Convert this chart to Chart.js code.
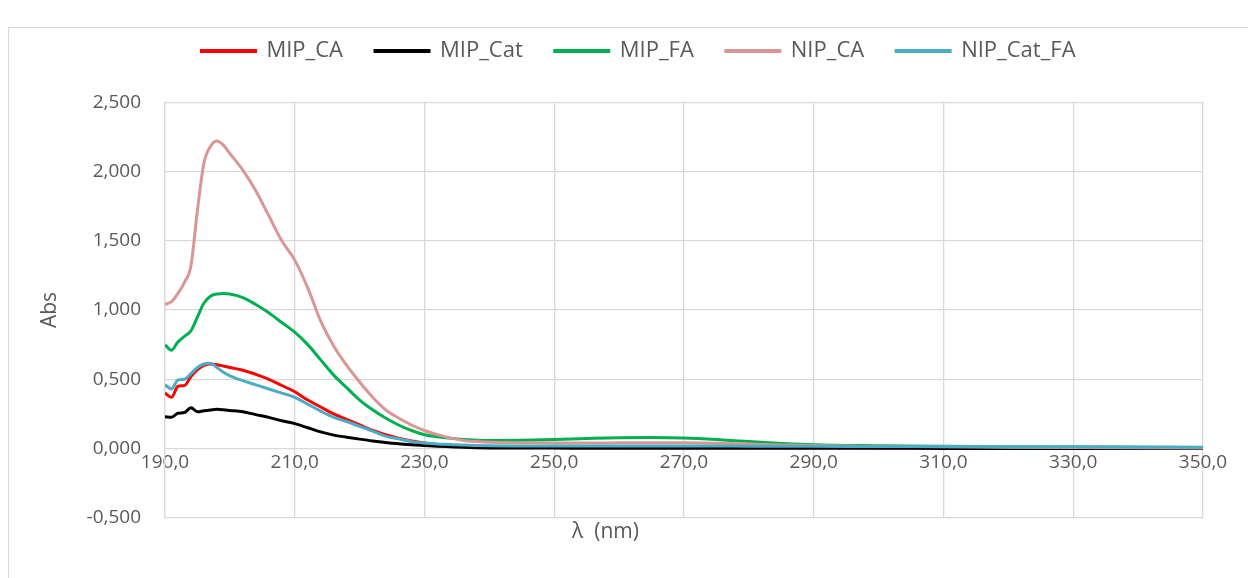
<!DOCTYPE html>
<html>
<head>
<meta charset="utf-8">
<script src="https://cdn.jsdelivr.net/npm/chart.js@4.4.1/dist/chart.umd.min.js"></script>
<style>
  html, body { margin: 0; padding: 0; background: #ffffff; }
  #wrap { position: relative; width: 1248px; height: 578px; overflow: hidden; }
  #frame { position: absolute; left: 8px; top: 27px; width: 1300px; height: 600px;
           border: 1px solid #d9d9d9; box-sizing: border-box; pointer-events: none; }
  canvas { position: absolute; left: 0; top: 0; }
</style>
</head>
<body>
<div id="wrap">
  <canvas id="c" width="1248" height="578"></canvas>
  <div id="frame"></div>
</div>
<script>
// Wavelengths (nm) shared by all spectra
const wavelengths = [190,191,192,193,194,195,196,197,198,199,200,202,204,206,208,210,212,214,216,218,220,222,224,226,228,230,232,234,236,238,240,245,250,255,260,265,270,275,280,285,290,300,310,320,330,340,350];

// Absorbance of each sample
const mipCA = [0.40,0.37,0.45,0.455,0.52,0.57,0.60,0.61,0.605,0.595,0.585,0.565,0.535,0.50,0.455,0.41,0.35,0.30,0.25,0.21,0.17,0.13,0.10,0.075,0.055,0.04,0.03,0.02,0.015,0.012,0.01,0.01,0.01,0.01,0.01,0.01,0.01,0.01,0.01,0.008,0.008,0.006,0.005,0.005,0.004,0.004,0.003];
const mipCat = [0.23,0.225,0.255,0.26,0.295,0.265,0.272,0.278,0.283,0.28,0.275,0.265,0.245,0.225,0.20,0.18,0.15,0.12,0.097,0.082,0.068,0.055,0.044,0.035,0.028,0.022,0.017,0.013,0.009,0.006,0.004,0.003,0.003,0.002,0.002,0.002,0.002,0.002,0.002,0.002,0.002,0.002,0.001,0.001,0.001,0.001,0.001];
const mipFA = [0.75,0.71,0.77,0.81,0.85,0.95,1.05,1.10,1.115,1.12,1.115,1.09,1.04,0.98,0.91,0.84,0.75,0.64,0.53,0.44,0.35,0.28,0.22,0.17,0.13,0.10,0.085,0.075,0.065,0.06,0.058,0.06,0.065,0.072,0.078,0.08,0.076,0.065,0.05,0.037,0.027,0.02,0.016,0.013,0.011,0.009,0.007];
const nipCA = [1.04,1.06,1.12,1.20,1.32,1.72,2.06,2.18,2.22,2.19,2.13,2.01,1.86,1.68,1.50,1.36,1.16,0.92,0.74,0.60,0.48,0.37,0.28,0.22,0.17,0.13,0.10,0.075,0.058,0.05,0.045,0.042,0.04,0.04,0.041,0.042,0.041,0.038,0.032,0.026,0.021,0.016,0.012,0.01,0.008,0.006,0.004];
const nipCatFA = [0.46,0.43,0.495,0.50,0.54,0.585,0.61,0.615,0.585,0.55,0.525,0.49,0.46,0.43,0.40,0.37,0.32,0.27,0.225,0.195,0.16,0.125,0.09,0.07,0.05,0.04,0.033,0.03,0.025,0.022,0.02,0.019,0.018,0.018,0.018,0.018,0.018,0.018,0.017,0.017,0.016,0.015,0.014,0.013,0.012,0.011,0.01];

const seriesNames = ['MIP_CA', 'MIP_Cat', 'MIP_FA', 'NIP_CA', 'NIP_Cat_FA'];
const seriesValues = [mipCA, mipCat, mipFA, nipCA, nipCatFA];
const seriesColors = ['#ff0000', '#000000', '#00b050', '#da9694', '#4bacc6'];

// Axis ranges and tick steps
const xMin = 190, xMax = 350, xStep = 20;
const yMin = -0.5, yMax = 2.5, yStep = 0.5;

const FONT = "'Open Sans', 'Noto Sans', sans-serif";
const TEXT = '#595959';
const GRID = '#d9d9d9';

const datasets = seriesNames.map((name, i) => ({
  label: name,
  data: wavelengths.map((w, k) => ({ x: w, y: seriesValues[i][k] })),
  borderColor: seriesColors[i],
  backgroundColor: seriesColors[i],
  borderWidth: 3,
  pointRadius: 0,
  cubicInterpolationMode: 'monotone',
  order: seriesNames.length - i
}));

// moves the legend row a little to the right of the default centre
const legendOffset = {
  id: 'legendOffset',
  afterLayout(chart) {
    const lg = chart.legend;
    if (lg) { lg.left += 33; lg.right += 33; }
  }
};

new Chart(document.getElementById('c'), {
  type: 'line',
  data: { datasets },
  plugins: [legendOffset],
  options: {
    responsive: false,
    animation: false,
    layout: { padding: { left: 8, right: 45, top: 8, bottom: 0 } },
    plugins: {
      tooltip: { enabled: false },
      legend: {
        position: 'top',
        weight: 1000,
        labels: {
          font: { family: FONT, size: 22 },
          color: TEXT,
          boxWidth: 54,
          boxHeight: 1,
          padding: 32,
          sort: (a, b) => a.datasetIndex - b.datasetIndex
        }
      },
      // empty block that keeps a gap between the legend and the plot
      subtitle: {
        display: true,
        position: 'top',
        weight: 500,
        text: ' ',
        font: { size: 1 },
        padding: { top: 29, bottom: 0 }
      },
      title: {
        display: true,
        position: 'bottom',
        text: 'λ  (nm)',
        color: TEXT,
        font: { family: FONT, size: 21, weight: 'normal' },
        padding: { top: 2, bottom: 33 }
      }
    },
    scales: {
      x: {
        type: 'linear',
        position: { y: 0 },
        min: xMin, max: xMax,
        ticks: {
          stepSize: xStep,
          color: TEXT,
          font: { family: FONT, size: 19 },
          padding: 3,
          maxRotation: 0,
          callback: v => v.toFixed(1).replace('.', ',')
        },
        grid: { color: GRID, lineWidth: 1.3, drawTicks: false },
        border: { display: false }
      },
      y: {
        min: yMin, max: yMax,
        ticks: {
          stepSize: yStep,
          color: TEXT,
          font: { family: FONT, size: 19 },
          padding: 24,
          callback: v => v.toFixed(3).replace('.', ',')
        },
        grid: { color: GRID, lineWidth: 1.3, drawTicks: false },
        border: { color: GRID, width: 1.3 },
        title: {
          display: true,
          text: 'Abs',
          color: TEXT,
          font: { family: FONT, size: 21 },
          padding: { top: 29, bottom: 0 }
        },
        afterFit: s => { s.width = 157; }
      }
    }
  }
});
</script>
</body>
</html>
